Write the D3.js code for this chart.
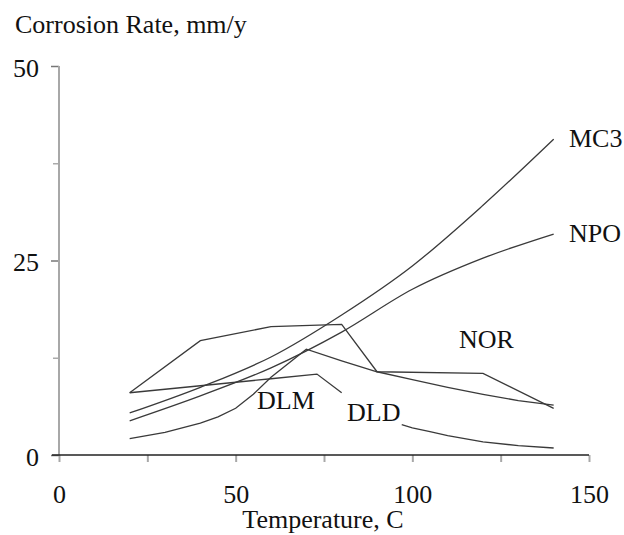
<!DOCTYPE html>
<html>
<head>
<meta charset="utf-8">
<script src="https://cdn.jsdelivr.net/npm/d3@7"></script>
<style>
  body { margin: 0; background: #fff; }
  text { font-family: "Liberation Serif", "Times New Roman", serif; fill: #111; }
</style>
</head>
<body>
<div id="chart"></div>
<script>
// data (temperature C, corrosion rate mm/y)
var mc3X = [20, 40, 60, 80, 100, 120, 140];
var mc3Y = [5.4, 8.7, 12.6, 18.0, 24.3, 32.1, 40.6];

var npoX = [20, 40, 60, 80, 100, 120, 140];
var npoY = [4.4, 7.6, 11.2, 15.8, 21.3, 25.3, 28.4];

var norX = [20, 40, 60, 80, 90, 120, 140];
var norY = [8.0, 14.7, 16.5, 16.8, 10.7, 10.5, 6.0];

var dlmX = [20, 30, 40, 45, 50, 55, 60, 70, 80, 90, 100, 110, 120, 130, 140];
var dlmY = [2.1, 2.9, 4.1, 4.9, 6.0, 7.8, 10.0, 13.6, 12.1, 10.7, 9.7, 8.7, 7.8, 7.0, 6.4];

// gap where the DLD label sits
var dldX = [20, 40, 60, 73, 80, 90, 97, 100, 105, 110, 120, 130, 140];
var dldY = [8.0, 8.9, 9.8, 10.4, 8.0, null, 3.9, 3.5, 3.0, 2.5, 1.7, 1.2, 0.9];

var xTicks = [0, 25, 50, 75, 100, 125, 150];
var xLabels = [0, 50, 100, 150];
var yTicks = [0, 12.5, 25, 37.5, 50];
var yLabels = [0, 25, 50];

var W = 624, H = 535;
var svg = d3.select("#chart").append("svg")
  .attr("width", W)
  .attr("height", H);

var x = d3.scaleLinear().domain([0, 150]).range([59, 589]);
var y = d3.scaleLinear().domain([0, 50]).range([455, 66]);

// y axis (grey)
var yAxis = svg.append("g")
  .attr("transform", "translate(" + x(0) + ",0)")
  .call(d3.axisLeft(y)
    .tickValues(yTicks)
    .tickSize(8)
    .tickSizeOuter(0)
    .tickPadding(12)
    .tickFormat(function(d){ return yLabels.indexOf(d) >= 0 ? d : ""; }));
yAxis.select(".domain").remove();
yAxis.selectAll(".tick line")
  .attr("stroke", function(d){ return yLabels.indexOf(d) >= 0 ? "#777" : "#aaa"; })
  .attr("stroke-width", 1.5)
  .attr("x2", function(d){ return yLabels.indexOf(d) >= 0 ? -8 : -6; });
yAxis.selectAll(".tick text")
  .attr("dy", "0.4em")
  .style("font-size", "26px");
svg.append("line")
  .attr("x1", x(0)).attr("x2", x(0))
  .attr("y1", y(50)).attr("y2", y(0))
  .attr("stroke", "#a8a8a8")
  .attr("stroke-width", 2);

// x axis
var xAxis = svg.append("g")
  .attr("transform", "translate(0," + y(0) + ")")
  .call(d3.axisBottom(x)
    .tickValues(xTicks)
    .tickSize(7)
    .tickSizeOuter(0)
    .tickPadding(23)
    .tickFormat(function(d){ return xLabels.indexOf(d) >= 0 ? d : ""; }));
xAxis.select(".domain").remove();
xAxis.selectAll(".tick line")
  .attr("stroke", "#a8a8a8")
  .attr("stroke-width", 2);
xAxis.selectAll(".tick text")
  .style("font-size", "26px");
svg.append("line")
  .attr("x1", x(0) - 7).attr("x2", x(150))
  .attr("y1", y(0)).attr("y2", y(0))
  .attr("stroke", "#222")
  .attr("stroke-width", 1.5);

// series
function toPoints(xs, ys){
  return xs.map(function(v, i){ return [v, ys[i]]; });
}
var series = [
  {name: "MC3", pts: toPoints(mc3X, mc3Y), curve: d3.curveMonotoneX},
  {name: "NPO", pts: toPoints(npoX, npoY), curve: d3.curveMonotoneX},
  {name: "NOR", pts: toPoints(norX, norY), curve: d3.curveLinear},
  {name: "DLM", pts: toPoints(dlmX, dlmY), curve: d3.curveLinear},
  {name: "DLD", pts: toPoints(dldX, dldY), curve: d3.curveLinear}
];
series.forEach(function(s){
  var line = d3.line()
    .defined(function(d){ return d[1] != null; })
    .x(function(d){ return x(d[0]); })
    .y(function(d){ return y(d[1]); })
    .curve(s.curve);
  svg.append("path")
    .datum(s.pts)
    .attr("fill", "none")
    .attr("stroke", "#3a3a3a")
    .attr("stroke-width", 1.3)
    .attr("d", line);
});

// series labels
var labels = [
  {t: "MC3", x: 569, y: 147},
  {t: "NPO", x: 569, y: 242},
  {t: "NOR", x: 459, y: 348},
  {t: "DLM", x: 257, y: 409},
  {t: "DLD", x: 347, y: 421}
];
labels.forEach(function(l){
  svg.append("text")
    .attr("x", l.x)
    .attr("y", l.y)
    .style("font-size", "26px")
    .text(l.t);
});

// axis titles
svg.append("text")
  .attr("x", 15)
  .attr("y", 33)
  .style("font-size", "26px")
  .text("Corrosion Rate, mm/y");
svg.append("text")
  .attr("x", 323)
  .attr("y", 528)
  .attr("text-anchor", "middle")
  .style("font-size", "26px")
  .text("Temperature, C");
</script>
</body>
</html>
